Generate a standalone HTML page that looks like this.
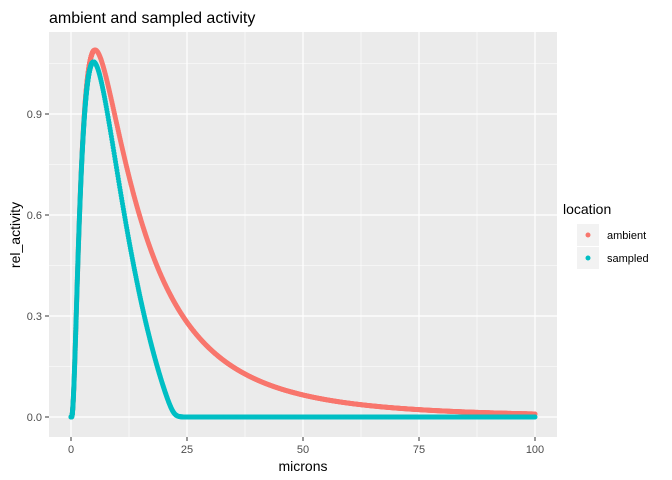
<!DOCTYPE html><html><head><style>body{margin:0;background:#fff}svg{display:block;font-family:"Liberation Sans",sans-serif}</style></head><body>
<svg id="s" width="672" height="480" xmlns="http://www.w3.org/2000/svg">
<text x="49" y="23" font-size="16" fill="#000">ambient and sampled activity</text>
<rect x="49" y="32" width="508" height="405" fill="#EBEBEB"/>
<g id="grid"></g>
<g id="pts"></g>
<g font-size="11" fill="#4D4D4D" text-anchor="end">
<text x="42" y="421">0.0</text><text x="42" y="320">0.3</text><text x="42" y="219">0.6</text><text x="42" y="118">0.9</text></g>
<g stroke="#333" stroke-width="1"><line x1="45" x2="49" y1="417" y2="417"/><line x1="45" x2="49" y1="316" y2="316"/><line x1="45" x2="49" y1="215" y2="215"/><line x1="45" x2="49" y1="114" y2="114"/>
<line x1="71" x2="71" y1="437" y2="441"/><line x1="187" x2="187" y1="437" y2="441"/><line x1="303" x2="303" y1="437" y2="441"/><line x1="419" x2="419" y1="437" y2="441"/><line x1="535" x2="535" y1="437" y2="441"/></g>
<g font-size="11" fill="#4D4D4D" text-anchor="middle"><text x="71" y="453">0</text><text x="187" y="453">25</text><text x="303" y="453">50</text><text x="419" y="453">75</text><text x="535" y="453">100</text></g>
<text x="303" y="471" font-size="14" text-anchor="middle">microns</text>
<text transform="translate(20,235) rotate(-90)" font-size="14" text-anchor="middle">rel_activity</text>
<text x="563" y="214" font-size="14">location</text>
<rect x="577" y="224" width="22" height="22" fill="#F2F2F2"/><rect x="577" y="247" width="22" height="22" fill="#F2F2F2"/>
<circle cx="588" cy="235" r="2.5" fill="#F8766D"/><circle cx="588" cy="258" r="2.5" fill="#00BFC4"/>
<text x="607" y="239" font-size="11">ambient</text><text x="607" y="262" font-size="11">sampled</text>
</svg>
<script>
var ns="http://www.w3.org/2000/svg",g=document.getElementById("grid"),p=document.getElementById("pts");
function X(v){return 71+v*4.64}function Y(v){return 417-v*336.67}
function ln(x1,y1,x2,y2,w){var l=document.createElementNS(ns,"line");l.setAttribute("x1",x1);l.setAttribute("x2",x2);l.setAttribute("y1",y1);l.setAttribute("y2",y2);l.setAttribute("stroke","#fff");l.setAttribute("stroke-width",w);g.appendChild(l)}
[12.5,37.5,62.5,87.5].forEach(v=>ln(X(v),32,X(v),437,0.6));[0.15,0.45,0.75,1.05].forEach(v=>ln(49,Y(v),557,Y(v),0.6));
[0,25,50,75,100].forEach(v=>ln(X(v),32,X(v),437,1.2));[0,0.3,0.6,0.9].forEach(v=>ln(49,Y(v),557,Y(v),1.2));
function amb(x){if(x<=0)return 0;var l=Math.log(x/5.2);return 1.09*Math.exp(-l*l/1.82)}
function eff(x){var t=x/22.2,s=0.05,u=(1-Math.pow(t,2.3))/s;return u>30?s*u:s*Math.log(1+Math.exp(u))}
function samp(x){return amb(x)*eff(x)}
var xs=[];for(var i=0;i<=500;i++)xs.push(i/100);for(var i=51;i<=1000;i++)xs.push(i/10);
function dot(x,y,c){var e=document.createElementNS(ns,"circle");e.setAttribute("cx",X(x).toFixed(2));e.setAttribute("cy",Y(y).toFixed(2));e.setAttribute("r","2.5");e.setAttribute("fill",c);p.appendChild(e)}
xs.forEach(x=>dot(x,amb(x),"#F8766D"));
xs.forEach(x=>dot(x,samp(x),"#00BFC4"));
</script></body></html>
